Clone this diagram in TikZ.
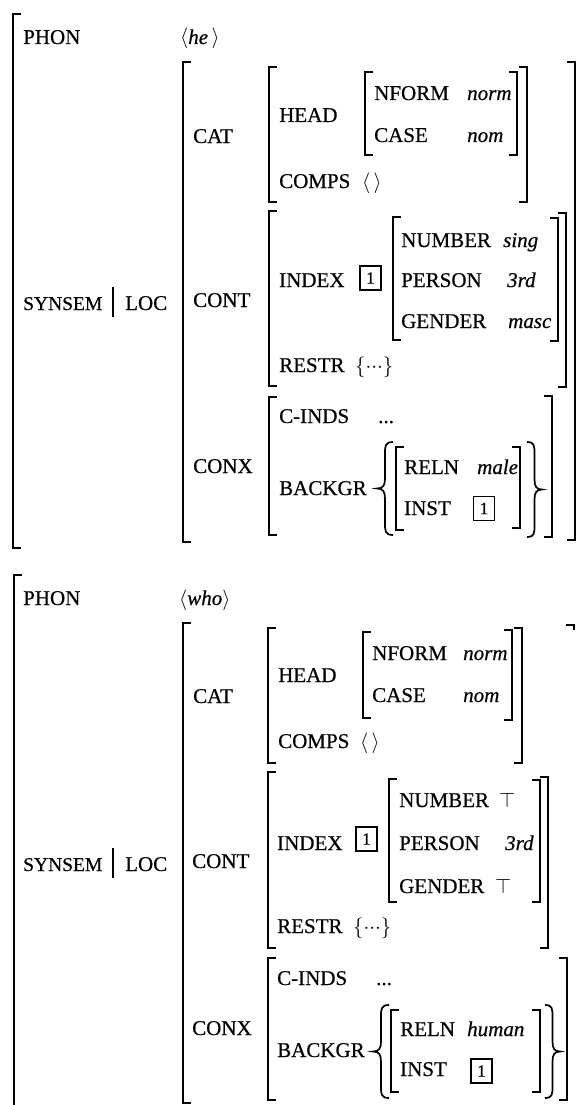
\documentclass[tikz,border=0pt]{standalone}
\usepackage{fontspec}
\setmainfont{Liberation Serif}[FakeBold=0.5]

\newcommand\avmfont{\fontsize{21}{25}\selectfont}

% square brackets: x, top, bottom
\newcommand\lbr[3]{\draw[brk] (#1+8,#2) -- (#1,#2) -- (#1,#3) -- (#1+8,#3);}
\newcommand\rbr[3]{\draw[brk] (#1-8,#2) -- (#1,#2) -- (#1,#3) -- (#1-8,#3);}
% curly braces: x left, x right, top, bottom
\newcommand\lbrc[4]{%
  \pgfmathsetmacro\bxm{(#1+#2)/2}\pgfmathsetmacro\bym{(#3+#4)/2}%
  \draw[brc] (#2,#3) .. controls (\bxm,#3) and (\bxm,#3+4) .. (\bxm,#3+12)
    -- (\bxm,\bym-10) .. controls (\bxm,\bym-3) and (\bxm-2,\bym) .. (#1,\bym)
    .. controls (\bxm-2,\bym) and (\bxm,\bym+3) .. (\bxm,\bym+10)
    -- (\bxm,#4-12) .. controls (\bxm,#4-4) and (\bxm,#4) .. (#2,#4);}
\newcommand\rbrc[4]{%
  \pgfmathsetmacro\bxm{(#1+#2)/2}\pgfmathsetmacro\bym{(#3+#4)/2}%
  \draw[brc] (#1,#3) .. controls (\bxm,#3) and (\bxm,#3+4) .. (\bxm,#3+12)
    -- (\bxm,\bym-10) .. controls (\bxm,\bym-3) and (\bxm+2,\bym) .. (#2,\bym)
    .. controls (\bxm+2,\bym) and (\bxm,\bym+3) .. (\bxm,\bym+10)
    -- (\bxm,#4-12) .. controls (\bxm,#4-4) and (\bxm,#4) .. (#1,#4);}

\begin{document}
\begin{tikzpicture}[x=1pt,y=-1pt,
  lab/.style={anchor=base west, inner sep=0pt, font=\avmfont},
  slab/.style={anchor=base west, inner sep=0pt, font=\fontsize{19.5}{24}\selectfont},
  val/.style={anchor=base west, inner sep=0pt, font=\avmfont\itshape},
  topsym/.style={anchor=base west, inner sep=0pt, font=\fontsize{20}{24}\selectfont},
  tag/.style={draw, line width=1.3pt, minimum width=21pt, minimum height=24pt,
    inner sep=0pt, font=\fontsize{17}{17}\selectfont},
  brk/.style={line width=1.7pt},
  brc/.style={line width=1.7pt},
  bar/.style={line width=1.1pt}]
\useasboundingbox (0,0) rectangle (577,1105);
\fill[white] (0,0) rectangle (577,1105);

% ---------- entry for "he" ----------
\lbr{13}{14}{548}
\node[lab] (t-phon) at (23,44) {PHON};
\node[lab] (t-phonv) at (180,44) {$\langle$\textit{he}\,$\rangle$};
\node[slab] (t-synsem) at (23,310) {SYNSEM};
\draw[bar] (113,287) -- (113,317);
\node[lab] (t-loc) at (125,310) {LOC};

\lbr{183}{62}{542} \rbr{575}{62}{540}
\node[lab] (t-cat) at (193,143) {CAT};
\lbr{269}{67}{202} \rbr{527}{67}{202}
\node[lab] (t-head) at (279,122) {HEAD};
\lbr{365}{72}{155} \rbr{517}{72}{155}
\node[lab] (t-nform) at (374,100) {NFORM};
\node[val] (t-norm) at (467,100) {norm};
\node[lab] (t-case) at (374,142) {CASE};
\node[val] (t-nom) at (467,142) {nom};
\node[lab] (t-comps) at (279,188) {COMPS};
\node[lab] (t-compsv) at (362,188) {$\langle\,\rangle$};

\node[lab] (t-cont) at (193,307) {CONT};
\lbr{269}{211}{386} \rbr{566}{213}{387}
\node[lab] (t-index) at (279,287) {INDEX};
\node[tag] (t-tag1) at (370.5,278) {1};
\lbr{393}{217}{340} \rbr{558}{218}{341}
\node[lab] (t-number) at (401,247) {NUMBER};
\node[val] (t-sing) at (503,247) {sing};
\node[lab] (t-person) at (401,287) {PERSON};
\node[val] (t-3rd) at (507,287) {3rd};
\node[lab] (t-gender) at (401,328) {GENDER};
\node[val] (t-masc) at (508,328) {masc};
\node[lab] (t-restr) at (279,372) {RESTR};
\node[lab] (t-restrv) at (355,372) {$\{{\cdot}{\cdot}{\cdot}\}$};

\node[lab] (t-conx) at (193,473) {CONX};
\lbr{269}{397}{535} \rbr{552}{396}{537}
\node[lab] (t-cinds) at (279,423) {C-INDS};
\node[lab] (t-cindsv) at (378,423) {...};
\node[lab] (t-backgr) at (279,495) {BACKGR};
\lbrc{377}{393}{442}{535} \rbrc{527}{542}{442}{537}
\lbr{396}{447}{530} \rbr{520}{447}{528}
\node[lab] (t-reln) at (404,474) {RELN};
\node[val] (t-male) at (477,474) {male};
\node[lab] (t-inst) at (404,515) {INST};
\node[tag] (t-tag2) at (484,508.5) {1};

% ---------- entry for "who" ----------
\draw[brk] (22,575) -- (14,575) -- (14,1105);
\node[lab] (b-phon) at (23,605) {PHON};
\node[lab] (b-phonv) at (179,605) {$\langle$\textit{who}$\rangle$};
\node[slab] (b-synsem) at (23,871) {SYNSEM};
\draw[bar] (113,848) -- (113,878);
\node[lab] (b-loc) at (125,871) {LOC};

\lbr{183}{623}{1103}
\draw[brk] (566,625) -- (574,625) -- (574,630);
\node[lab] (b-cat) at (193,703) {CAT};
\lbr{268}{628}{763} \rbr{522}{628}{763}
\node[lab] (b-head) at (278,682) {HEAD};
\lbr{363}{632}{718} \rbr{512}{630}{720}
\node[lab] (b-nform) at (372,660) {NFORM};
\node[val] (b-norm) at (463,660) {norm};
\node[lab] (b-case) at (372,702) {CASE};
\node[val] (b-nom) at (463,702) {nom};
\node[lab] (b-comps) at (278,748) {COMPS};
\node[lab] (b-compsv) at (360,748) {$\langle\,\rangle$};

\node[lab] (b-cont) at (192,868) {CONT};
\lbr{268}{772}{948} \rbr{548}{777}{948}
\node[lab] (b-index) at (277,850) {INDEX};
\node[tag] (b-tag1) at (366.5,839) {1};
\lbr{389}{779}{902} \rbr{540}{780}{902}
\node[lab] (b-number) at (399,807) {NUMBER};
\node[topsym] (b-top1) at (499,807) {$\top$};
\node[lab] (b-person) at (399,850) {PERSON};
\node[val] (b-3rd) at (505,850) {3rd};
\node[lab] (b-gender) at (399,893) {GENDER};
\node[topsym] (b-top2) at (495,893) {$\top$};
\node[lab] (b-restr) at (277,933) {RESTR};
\node[lab] (b-restrv) at (353,933) {$\{{\cdot}{\cdot}{\cdot}\}$};

\node[lab] (b-conx) at (192,1035) {CONX};
\lbr{268}{958}{1100} \rbr{567}{958}{1100}
\node[lab] (b-cinds) at (277,985) {C-INDS};
\node[lab] (b-cindsv) at (376,985) {...};
\node[lab] (b-backgr) at (277,1057) {BACKGR};
\lbrc{373}{389}{1005}{1098} \rbrc{545}{560}{1005}{1098}
\lbr{391}{1010}{1092} \rbr{540}{1010}{1092}
\node[lab] (b-reln) at (400,1036) {RELN};
\node[val] (b-human) at (467,1036) {human};
\node[lab] (b-inst) at (400,1076) {INST};
\node[tag] (b-tag2) at (481.5,1071) {1};
\end{tikzpicture}
\end{document}
